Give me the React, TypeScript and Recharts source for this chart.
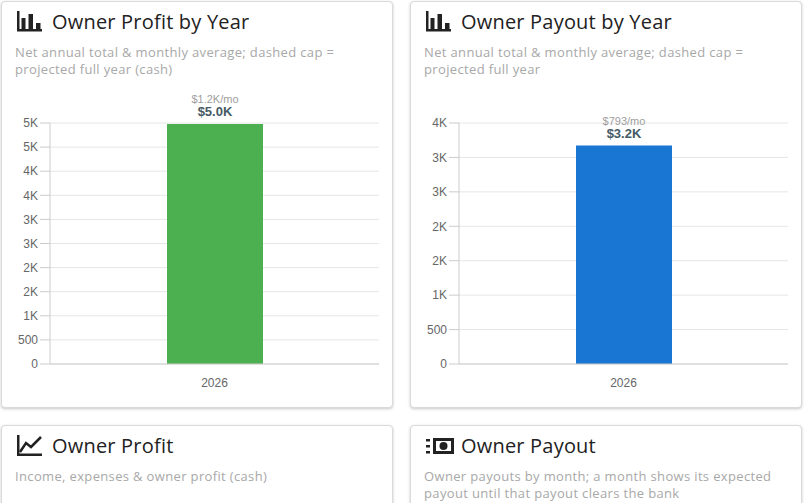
import React from "react";
import {
  BarChart,
  Bar,
  XAxis,
  YAxis,
  CartesianGrid,
  LabelList,
} from "recharts";

const years = ["2026"];
const profitTotals = [4980];
const profitMonthly = [1245];
const payoutTotals = [3172];
const payoutMonthly = [793];
const profitTicks = [0, 500, 1000, 1500, 2000, 2500, 3000, 3500, 4000, 4500, 5000];
const payoutTicks = [0, 500, 1000, 1500, 2000, 2500, 3000, 3500];

const TITLE_FONT = "'Open Sans', 'Noto Sans', sans-serif";
const CHART_FONT = "'Liberation Sans', Arial, sans-serif";

const fmtTick = (v: number) => (v < 1000 ? String(v) : `${(v / 1000).toFixed(0)}K`);
const fmtTotal = (v: number) => `$${(v / 1000).toFixed(1)}K`;
const fmtMonthly = (v: number) =>
  v >= 1000 ? `$${(v / 1000).toFixed(1)}K/mo` : `$${Math.round(v)}/mo`;

function BarChartIcon() {
  return (
    <svg width="26" height="22" viewBox="0 0 26 22">
      <rect x="0" y="0" width="2.5" height="20" fill="#222" />
      <rect x="0" y="18" width="25" height="2.5" fill="#222" />
      <rect x="4.5" y="7" width="4" height="12" fill="#222" />
      <rect x="11.5" y="3" width="4.5" height="16" fill="#222" />
      <rect x="19" y="12" width="4.5" height="7" fill="#222" />
    </svg>
  );
}

function LineChartIcon() {
  return (
    <svg width="26" height="22" viewBox="0 0 26 22">
      <rect x="0" y="0" width="2.5" height="21" fill="#222" />
      <rect x="0" y="18.5" width="25" height="2.5" fill="#222" />
      <polyline
        points="3,17 9,8 14,12 24,2"
        fill="none"
        stroke="#222"
        strokeWidth="2.5"
      />
    </svg>
  );
}

function PayoutIcon() {
  return (
    <svg width="30" height="22" viewBox="0 0 30 22">
      <rect x="0" y="4" width="4" height="2.5" fill="#222" />
      <rect x="0" y="10" width="4" height="2.5" fill="#222" />
      <rect x="0" y="16" width="4" height="2.5" fill="#222" />
      <rect x="7" y="3" width="21" height="16" fill="#222" />
      <rect x="10" y="6" width="15" height="10" fill="#fff" />
      <circle cx="17.5" cy="11" r="4" fill="#222" />
    </svg>
  );
}

type CardProps = {
  left: number;
  top: number;
  height: number;
  icon: React.ReactNode;
  title: string;
  subtitle: string;
  children?: React.ReactNode;
};

function Card({ left, top, height, icon, title, subtitle, children }: CardProps) {
  return (
    <div
      style={{
        position: "absolute",
        left,
        top,
        width: 392,
        height,
        boxSizing: "border-box",
        border: "1px solid #dadada",
        borderRadius: 4,
        background: "#fff",
        boxShadow: "0 1px 3px rgba(0,0,0,0.22)",
      }}
    >
      <div style={{ position: "absolute", left: 15, top: 9 }}>{icon}</div>
      <div
        style={{
          position: "absolute",
          left: 50,
          top: 8,
          fontFamily: TITLE_FONT,
          fontSize: 20,
          letterSpacing: 0.2,
          lineHeight: "24px",
          color: "#222",
          whiteSpace: "nowrap",
        }}
      >
        {title}
      </div>
      <div
        style={{
          position: "absolute",
          left: 13,
          top: 42,
          width: 364,
          fontFamily: TITLE_FONT,
          fontSize: 13,
          letterSpacing: 0.35,
          lineHeight: "17px",
          color: "#a8a8a8",
        }}
      >
        {subtitle}
      </div>
      {children}
    </div>
  );
}

function YearBars({
  totals,
  monthly,
  ticks,
  color,
}: {
  totals: number[];
  monthly: number[];
  ticks: number[];
  color: string;
}) {
  const data = years.map((year, i) => ({ year, total: totals[i], monthly: monthly[i] }));
  const max = ticks[ticks.length - 1];

  const renderLabel = (props: any) => {
    const { x, y, width, index } = props;
    const cx = Number(x) + Number(width) / 2;
    const top = Number(y);
    return (
      <g fontFamily={CHART_FONT}>
        <text x={cx} y={top - 21} textAnchor="middle" fontSize={11} fill="#9e9e9e">
          {fmtMonthly(data[index].monthly)}
        </text>
        <text
          x={cx}
          y={top - 8}
          textAnchor="middle"
          fontSize={13}
          fontWeight="bold"
          fill="#455a64"
        >
          {fmtTotal(data[index].total)}
        </text>
      </g>
    );
  };

  return (
    <div style={{ position: "absolute", left: 13, top: 86 }}>
      <BarChart
        width={364}
        height={308}
        data={data}
        margin={{ top: 35, right: 0, bottom: 2, left: 0 }}
        style={{ fontFamily: CHART_FONT }}
      >
        <CartesianGrid vertical={false} stroke="#e6e6e6" />
        <XAxis
          dataKey="year"
          stroke="#cccccc"
          tickLine={false}
          tickMargin={8}
          tick={{ fontSize: 12, fill: "#666" }}
        />
        <YAxis
          width={35}
          domain={[0, max]}
          ticks={ticks}
          interval={0}
          tickFormatter={fmtTick}
          stroke="#cccccc"
          tickSize={10}
          tick={{ fontSize: 12, fill: "#666" }}
        />
        <Bar dataKey="total" fill={color} barSize={96} isAnimationActive={false}>
          <LabelList dataKey="total" content={renderLabel} />
        </Bar>
      </BarChart>
    </div>
  );
}

export default function App() {
  return (
    <div style={{ position: "relative", width: 804, height: 503, overflow: "hidden", background: "#fff" }}>
      <style>{"body{margin:0}"}</style>
      <Card
        left={1}
        top={1}
        height={407}
        icon={<BarChartIcon />}
        title="Owner Profit by Year"
        subtitle="Net annual total & monthly average; dashed cap = projected full year (cash)"
      >
        <YearBars totals={profitTotals} monthly={profitMonthly} ticks={profitTicks} color="#4caf50" />
      </Card>
      <Card
        left={410}
        top={1}
        height={407}
        icon={<BarChartIcon />}
        title="Owner Payout by Year"
        subtitle="Net annual total & monthly average; dashed cap = projected full year"
      >
        <YearBars totals={payoutTotals} monthly={payoutMonthly} ticks={payoutTicks} color="#1976d2" />
      </Card>
      <Card
        left={1}
        top={425}
        height={200}
        icon={<LineChartIcon />}
        title="Owner Profit"
        subtitle="Income, expenses & owner profit (cash)"
      />
      <Card
        left={410}
        top={425}
        height={200}
        icon={<PayoutIcon />}
        title="Owner Payout"
        subtitle="Owner payouts by month; a month shows its expected payout until that payout clears the bank"
      />
    </div>
  );
}
